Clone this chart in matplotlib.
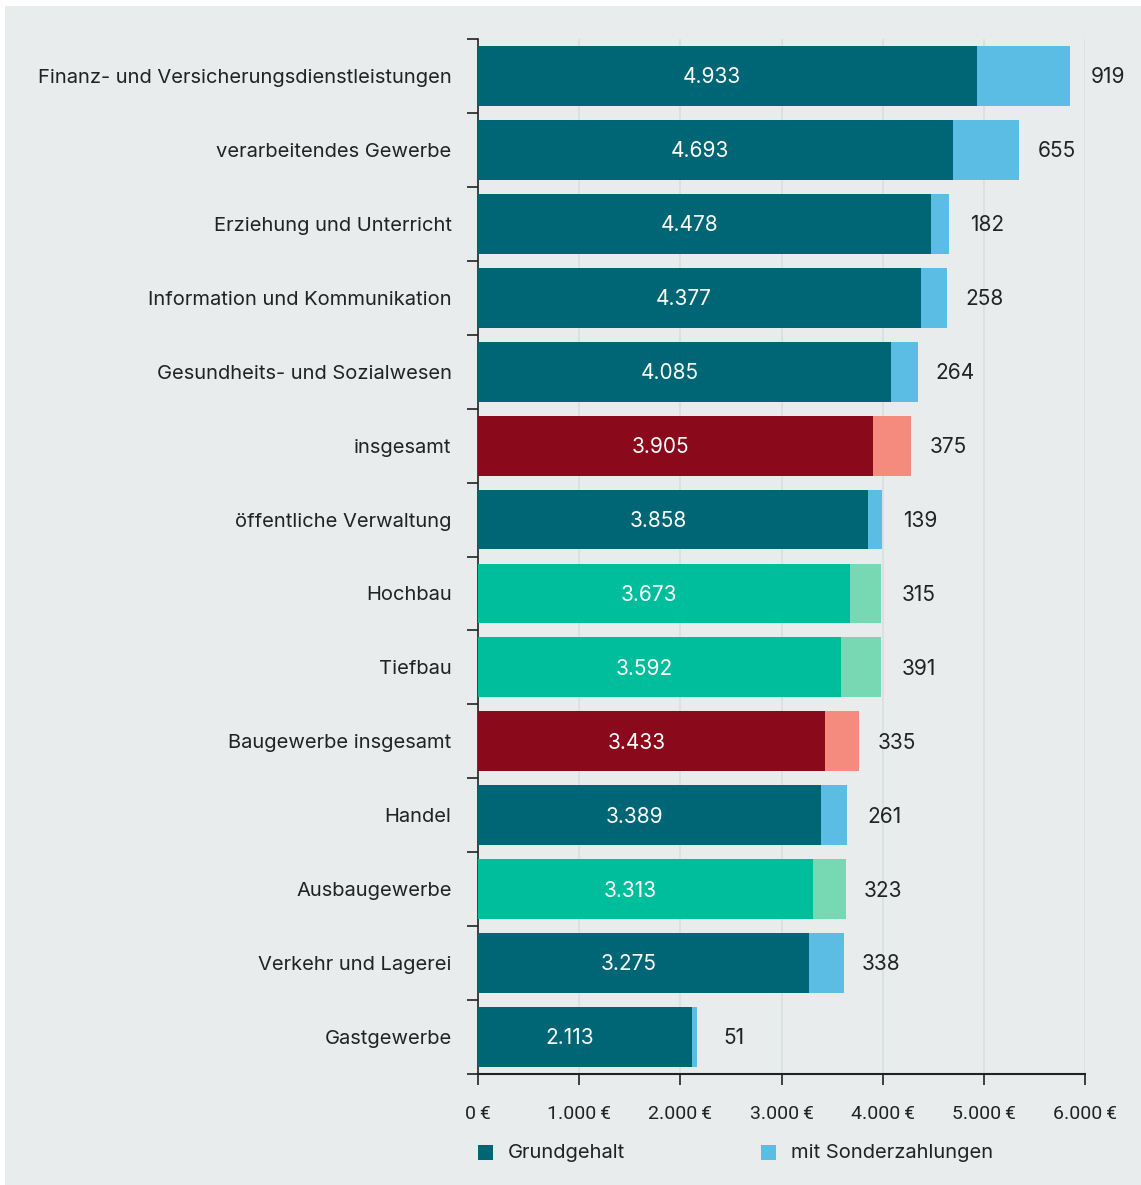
import matplotlib
matplotlib.use("Agg")
import matplotlib.pyplot as plt
from matplotlib.patches import Rectangle

# ---- data ----
categories = [
    "Finanz- und Versicherungsdienstleistungen",
    "verarbeitendes Gewerbe",
    "Erziehung und Unterricht",
    "Information und Kommunikation",
    "Gesundheits- und Sozialwesen",
    "insgesamt",
    "öffentliche Verwaltung",
    "Hochbau",
    "Tiefbau",
    "Baugewerbe insgesamt",
    "Handel",
    "Ausbaugewerbe",
    "Verkehr und Lagerei",
    "Gastgewerbe",
]
grundgehalt = [4933, 4693, 4478, 4377, 4085, 3905, 3858, 3673, 3592, 3433, 3389, 3313, 3275, 2113]
sonderzahlungen = [919, 655, 182, 258, 264, 375, 139, 315, 391, 335, 261, 323, 338, 51]
# color group per row: "std", "total", "bau"
groups = ["std", "std", "std", "std", "std", "total", "std", "bau", "bau", "total", "std", "bau", "std", "std"]
xticks = [0, 1000, 2000, 3000, 4000, 5000, 6000]
xtick_labels = ["0\u202f€", "1.000\u202f€", "2.000\u202f€", "3.000\u202f€", "4.000\u202f€", "5.000\u202f€", "6.000\u202f€"]

# ---- style ----
BG = "#e8ecec"
GRID = "#d9dfdf"
TXT = "#222222"
base_col = {"std": "#006675", "total": "#8a0a1c", "bau": "#00be9b"}
extra_col = {"std": "#5bbde3", "total": "#f48b7d", "bau": "#76d9b4"}
FONT = ["Inter", "DejaVu Sans"]
TICKFONT = ["Roboto", "DejaVu Sans"]

W, H = 1141, 1185
fig = plt.figure(figsize=(W / 100, H / 100), dpi=100)
fig.patch.set_facecolor("white")
fig.patches.append(Rectangle((5 / W, 0), 1 - 5 / W, 1 - 6 / H, transform=fig.transFigure,
                             facecolor=BG, edgecolor="none", zorder=-10))

ax = fig.add_axes([478 / W, 1 - 1074 / H, (1085 - 478) / W, (1074 - 39) / H])
ax.set_facecolor(BG)
ax.patch.set_alpha(0)

y = list(range(len(categories)))
for i in y:
    g = groups[i]
    ax.barh(i, grundgehalt[i], height=0.81, color=base_col[g], zorder=3)
    ax.barh(i, sonderzahlungen[i], left=grundgehalt[i], height=0.81, color=extra_col[g], zorder=3)
    ax.annotate(f"{grundgehalt[i] / 1000:.3f}", (grundgehalt[i] / 2, i), xytext=(-11, -1),
                textcoords="offset points", ha="center", va="center", color="white",
                fontsize=15, family=FONT, zorder=4)
    ax.annotate(str(sonderzahlungen[i]), (grundgehalt[i] + sonderzahlungen[i], i), xytext=(27, -1),
                textcoords="offset points", ha="center", va="center", color=TXT,
                fontsize=15, family=FONT, zorder=4)

ax.set_xlim(0, 6000)
ax.set_ylim(len(categories) - 0.5, -0.5)

ax.set_xticks(xticks)
ax.set_xticklabels(xtick_labels, family=TICKFONT, fontsize=14, color=TXT)
ax.tick_params(axis="x", direction="out", length=8, width=1.2, color=TXT, pad=14)
ax.xaxis.grid(True, color=GRID, linewidth=1.2, zorder=0)
ax.set_axisbelow(True)

# category labels at centres, tick marks at band boundaries
ax.set_yticks(y)
ax.set_yticklabels(categories, family=FONT, fontsize=14.5, color=TXT)
ax.tick_params(axis="y", which="major", length=0, pad=19)
ax.set_yticks([v - 0.5 for v in range(len(categories) + 1)], minor=True)
ax.tick_params(axis="y", which="minor", direction="out", length=8, width=1.2, color=TXT)

for s in ["top", "right"]:
    ax.spines[s].set_visible(False)
ax.spines["left"].set_color(TXT)
ax.spines["left"].set_linewidth(1.2)
ax.spines["bottom"].set_color(TXT)
ax.spines["bottom"].set_linewidth(1.5)

# legend
for x0, label, col in [(478, "Grundgehalt", base_col["std"]), (761, "mit Sonderzahlungen", extra_col["std"])]:
    fig.patches.append(Rectangle((x0 / W, 1 - 1160 / H), 15 / W, 15 / H, transform=fig.transFigure,
                                 facecolor=col, edgecolor="none"))
    fig.text((x0 + 30) / W, 1 - 1153 / H, label, family=FONT, fontsize=14.5, color=TXT,
             ha="left", va="center")

fig.savefig("out.png", dpi=100, facecolor=fig.get_facecolor())
